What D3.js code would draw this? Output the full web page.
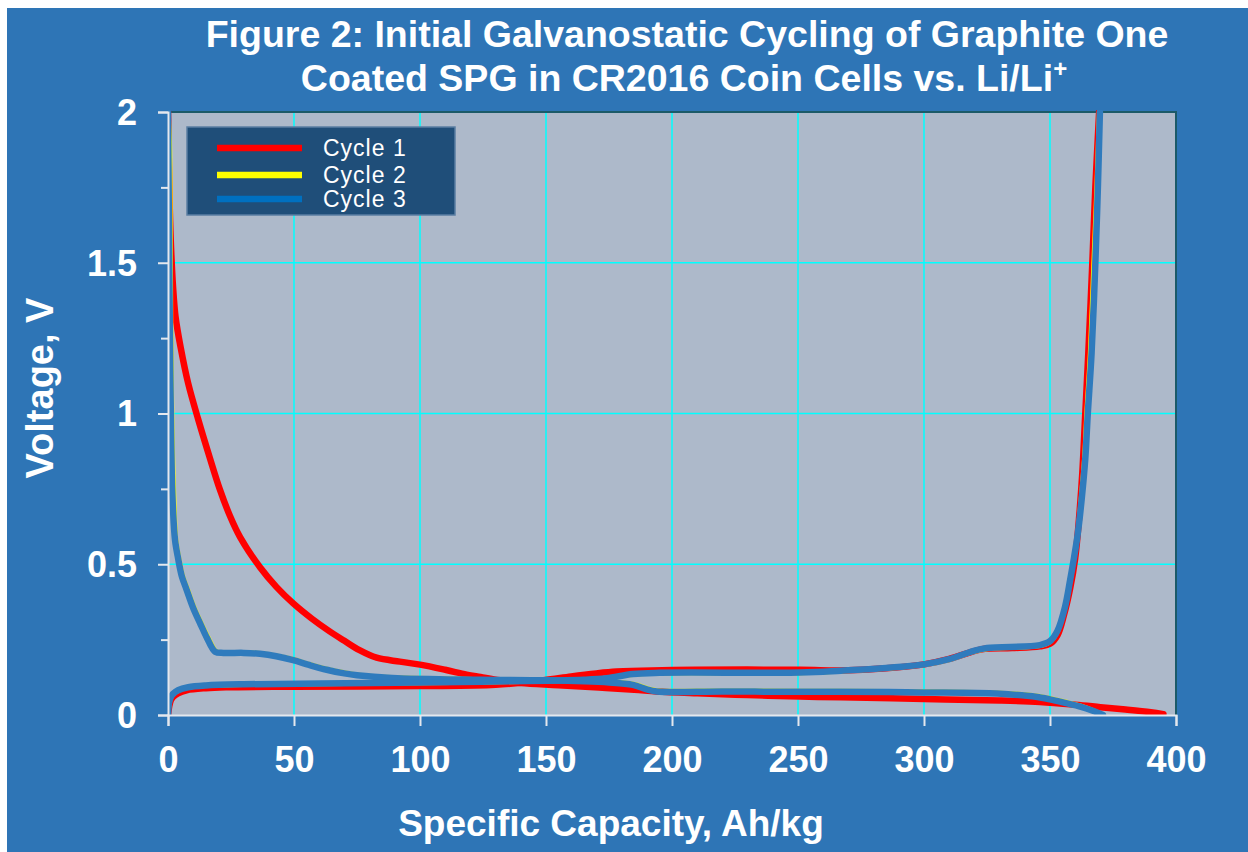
<!DOCTYPE html>
<html>
<head>
<meta charset="utf-8">
<script src="https://cdn.jsdelivr.net/npm/d3@7"></script>
<style>
  html, body { margin: 0; padding: 0; background: #ffffff; }
  svg { display: block; }
  text { font-family: "Liberation Sans", Arial, sans-serif; fill: #ffffff; }
</style>
</head>
<body>
<svg id="viz" width="1248" height="852"></svg>
<script>
// ----------------------- DATA  [capacity Ah/kg, voltage V]
const xTicks = [0, 50, 100, 150, 200, 250, 300, 350, 400];
const yTicks = [0, 0.5, 1, 1.5, 2];
const yMinorTicks = [0.25, 0.75, 1.25, 1.75];
const yTickLabels = ['0', '0.5', '1', '1.5', '2'];
const seriesNames = ['Cycle 1', 'Cycle 2', 'Cycle 3'];

// cycle 1 lithiation (discharge)
const cycle1Dis = [[0,2.0],[0.3,1.85],[0.7,1.68],[1.2,1.55],[2,1.42],[3,1.32],[5,1.22],[8,1.1],[12,0.98],
  [16.7,0.85],[20.5,0.75],[24.6,0.66],[28.6,0.59],[36.5,0.49],[43,0.425],[49.7,0.37],[57,0.32],[64,0.278],
  [70,0.246],[76,0.215],[82.8,0.19],[92,0.177],[100,0.167],[110,0.15],[118.5,0.134],[124,0.126],
  [131.7,0.115],[140,0.106],[155,0.099],[171,0.091],[185,0.084],[194,0.078],[210,0.072],[230,0.066],
  [251,0.061],[267,0.059],[300,0.053],[330,0.048],[346,0.043],[360,0.034],[370,0.026],[380,0.018],
  [390,0.009],[395,0.003]];
// cycle 1 delithiation (charge)
const cycle1Chg = [[0,0],[0.5,0.03],[1.2,0.05],[2,0.06],[4,0.072],[7.4,0.082],[15,0.089],[23,0.092],
  [50,0.094],[100,0.096],[130,0.1],[149,0.115],[160,0.128],[170,0.138],[178,0.144],[192,0.148],
  [251,0.15],[267,0.148],[285,0.155],[300,0.168],[310,0.186],[318,0.207],[323,0.218],[335,0.222],
  [346,0.228],[350,0.236],[353,0.265],[355.5,0.33],[358,0.42],[360,0.52],[361.5,0.65],[362.8,0.8],
  [364,1.0],[365.2,1.2],[366.8,1.5],[368,1.75],[369.5,2.0]];
// cycle 2
const cycle2Dis = [[0,2.0],[0.6,1.9],[0.9,1.6],[1.1,1.3],[1.3,1.15],[1.6,0.95],[2.0,0.8],[2.5,0.68],
  [3.1,0.58],[4.3,0.52],[5.8,0.46],[7.8,0.415],[10.4,0.355],[13.1,0.305],[16,0.255],[19.2,0.21],
  [22,0.207],[30,0.207],[36.5,0.204],[43,0.196],[49.7,0.184],[56,0.168],[63,0.152],[70,0.14],
  [75,0.133],[89,0.124],[124,0.118],[150,0.116],[176,0.11],[186,0.1],[191,0.086],[195,0.08],
  [220,0.08],[251,0.079],[267,0.079],[300,0.077],[326,0.074],[343,0.065],[350,0.055],[356,0.043],
  [362,0.03],[367,0.015],[371,0.0]];
const cycle2Chg = [[0,0],[0.5,0.04],[1.1,0.058],[2.2,0.07],[4.2,0.082],[8,0.092],[15,0.098],[30,0.101],
  [80,0.105],[124,0.109],[150,0.113],[165,0.116],[174,0.121],[184.5,0.134],[195,0.139],[251,0.14],
  [267,0.146],[285,0.155],[300,0.167],[310,0.184],[319.5,0.21],[325,0.22],[346,0.23],[350,0.243],
  [353,0.278],[356,0.36],[358,0.448],[359.5,0.52],[361,0.6],[362.3,0.71],[363.7,0.85],[364.6,1.0],
  [366,1.2],[367.4,1.5],[368.6,1.75],[369.6,2.0]];
// cycle 3
const cycle3Dis = [[0,2.0],[0.3,1.7],[0.6,1.4],[0.9,1.15],[1.2,0.95],[1.5,0.8],[2.0,0.68],[2.8,0.58],
  [4,0.52],[5.5,0.46],[7.4,0.415],[10,0.355],[12.7,0.305],[15.5,0.255],[18.7,0.21],[22,0.206],
  [30,0.206],[36.5,0.203],[43,0.195],[49.7,0.182],[56,0.166],[63,0.15],[70,0.138],[75,0.132],
  [89,0.123],[124,0.117],[150,0.115],[175,0.108],[184.5,0.1],[190,0.085],[194,0.078],[220,0.078],
  [251,0.077],[267,0.077],[300,0.075],[326,0.072],[343,0.062],[350,0.052],[356,0.04],[362,0.028],
  [367,0.014],[371,0.0]];
const cycle3Chg = [[0,0],[0.4,0.04],[1,0.058],[2,0.07],[4,0.082],[8,0.092],[15,0.098],[30,0.102],
  [80,0.106],[124,0.11],[150,0.114],[165,0.117],[174,0.122],[184.5,0.136],[195,0.14],[251,0.141],
  [267,0.147],[285,0.156],[300,0.168],[310,0.185],[319.5,0.212],[325,0.222],[346,0.232],[350,0.245],
  [353,0.28],[356,0.36],[358,0.448],[359.5,0.52],[361,0.6],[362.5,0.71],[364,0.85],[365,1.0],
  [366.5,1.2],[368,1.5],[369,1.75],[369.8,2.0]];

// ----------------------- SETTINGS
const plot = { left: 168, right: 1176, top: 112, bottom: 715 };
const colors = ['#ff0000', '#ffff00', '#2f7bbd'];
const legendColors = ['#ff0000', '#ffff00', '#0070c0'];
const widths = [6.5, 5, 6.5];

const svg = d3.select('#viz');

// outer background (thin white margin at top/left like the picture)
svg.append('rect')
  .attr('x', 7).attr('y', 8)
  .attr('width', 1248 - 7).attr('height', 852 - 8)
  .attr('fill', '#2e75b6');

// ----------------------- SCALES
const x = d3.scaleLinear().domain([0, 400]).range([plot.left, plot.right]);
const y = d3.scaleLinear().domain([0, 2]).range([plot.bottom, plot.top]);

// plot area
svg.append('rect')
  .attr('x', plot.left).attr('y', plot.top)
  .attr('width', plot.right - plot.left).attr('height', plot.bottom - plot.top)
  .attr('fill', '#adb9ca');

// gridlines
svg.append('g')
  .selectAll('line.vg')
  .data(xTicks.slice(1, -1))
  .enter().append('line')
  .attr('x1', d => x(d)).attr('x2', d => x(d))
  .attr('y1', plot.top).attr('y2', plot.bottom)
  .attr('stroke', '#00ffff').attr('stroke-width', 1.5);

svg.append('g')
  .selectAll('line.hg')
  .data(yTicks.slice(1, -1))
  .enter().append('line')
  .attr('x1', plot.left).attr('x2', plot.right)
  .attr('y1', d => y(d)).attr('y2', d => y(d))
  .attr('stroke', '#00ffff').attr('stroke-width', 1.5);

// top and right frame
svg.append('path')
  .attr('d', `M${plot.left},${plot.top}H${plot.right}V${plot.bottom}`)
  .attr('fill', 'none')
  .attr('stroke', '#1c5a68')
  .attr('stroke-width', 2);

// ----------------------- CURVES
svg.append('clipPath').attr('id', 'clip')
  .append('rect')
  .attr('x', plot.left).attr('y', plot.top - 2)
  .attr('width', plot.right - plot.left).attr('height', plot.bottom - plot.top + 2);

const line = d3.line()
  .x(d => x(d[0]))
  .y(d => y(d[1]))
  .curve(d3.curveCatmullRom.alpha(0.5));

const curves = [
  [cycle1Dis, cycle1Chg],
  [cycle2Dis, cycle2Chg],
  [cycle3Dis, cycle3Chg]
];

const curveG = svg.append('g').attr('clip-path', 'url(#clip)');
curves.forEach((pair, i) => {
  pair.forEach(data => {
    curveG.append('path')
      .datum(data)
      .attr('d', line)
      .attr('fill', 'none')
      .attr('stroke', colors[i])
      .attr('stroke-width', widths[i])
      .attr('stroke-linejoin', 'round')
      .attr('stroke-linecap', 'round');
  });
});

// ----------------------- AXES
const xAxis = d3.axisBottom(x)
  .tickValues(xTicks)
  .tickSize(11)
  .tickPadding(20)
  .tickFormat(d3.format('d'));

const gx = svg.append('g')
  .attr('transform', `translate(0, ${plot.bottom})`)
  .call(xAxis);
gx.select('.domain').attr('stroke', '#e4e8ee').attr('stroke-width', 2);
gx.selectAll('.tick line').attr('stroke', '#e4e8ee').attr('stroke-width', 2);
gx.selectAll('.tick text')
  .attr('fill', '#ffffff')
  .style('font-size', '36px')
  .style('font-weight', 'bold')
  .style('font-family', '"Liberation Sans", Arial, sans-serif');

const yMinor = d3.axisLeft(y)
  .tickValues(yMinorTicks)
  .tickSize(7)
  .tickFormat('');
const gym = svg.append('g')
  .attr('transform', `translate(${plot.left}, 0)`)
  .call(yMinor);
gym.select('.domain').remove();
gym.selectAll('.tick line').attr('stroke', '#e4e8ee').attr('stroke-width', 2);

const yAxis = d3.axisLeft(y)
  .tickValues(yTicks)
  .tickSize(10)
  .tickPadding(21)
  .tickFormat((d, i) => yTickLabels[i]);
const gy = svg.append('g')
  .attr('transform', `translate(${plot.left}, 0)`)
  .call(yAxis);
gy.select('.domain').attr('stroke', '#e4e8ee').attr('stroke-width', 2);
gy.selectAll('.tick line').attr('stroke', '#e4e8ee').attr('stroke-width', 2);
gy.selectAll('.tick text')
  .attr('fill', '#ffffff')
  .attr('dy', '0.34em')
  .style('font-size', '36px')
  .style('font-weight', 'bold')
  .style('font-family', '"Liberation Sans", Arial, sans-serif');

// ----------------------- TITLES
const title = svg.append('text')
  .attr('text-anchor', 'middle')
  .style('font-size', '37.5px')
  .style('font-weight', 'bold');
title.append('tspan').attr('x', 687).attr('y', 47)
  .text('Figure 2: Initial Galvanostatic Cycling of Graphite One');
const t2 = title.append('tspan').attr('x', 684).attr('y', 91)
  .text('Coated SPG in CR2016 Coin Cells vs. Li/Li');
t2.append('tspan').attr('dy', -14).style('font-size', '24px').text('+');

svg.append('text')
  .attr('x', 611).attr('y', 836)
  .attr('text-anchor', 'middle')
  .style('font-size', '37px')
  .style('font-weight', 'bold')
  .text('Specific Capacity, Ah/kg');

svg.append('text')
  .attr('transform', 'translate(53, 388) rotate(-90)')
  .attr('text-anchor', 'middle')
  .style('font-size', '38px')
  .style('font-weight', 'bold')
  .text('Voltage, V');

// ----------------------- LEGEND
const legend = svg.append('g');
legend.append('rect')
  .attr('x', 187).attr('y', 127)
  .attr('width', 268).attr('height', 88)
  .attr('fill', '#1f4e79')
  .attr('stroke', '#5a7ea3')
  .attr('stroke-width', 1.5);

const legendY = [148, 175, 199];
seriesNames.forEach((name, i) => {
  legend.append('line')
    .attr('x1', 217).attr('x2', 302)
    .attr('y1', legendY[i]).attr('y2', legendY[i])
    .attr('stroke', legendColors[i])
    .attr('stroke-width', 6.5);
  legend.append('text')
    .attr('x', 323).attr('y', legendY[i] + 8)
    .style('font-size', '23px')
    .style('letter-spacing', '1px')
    .text(name);
});
</script>
</body>
</html>
